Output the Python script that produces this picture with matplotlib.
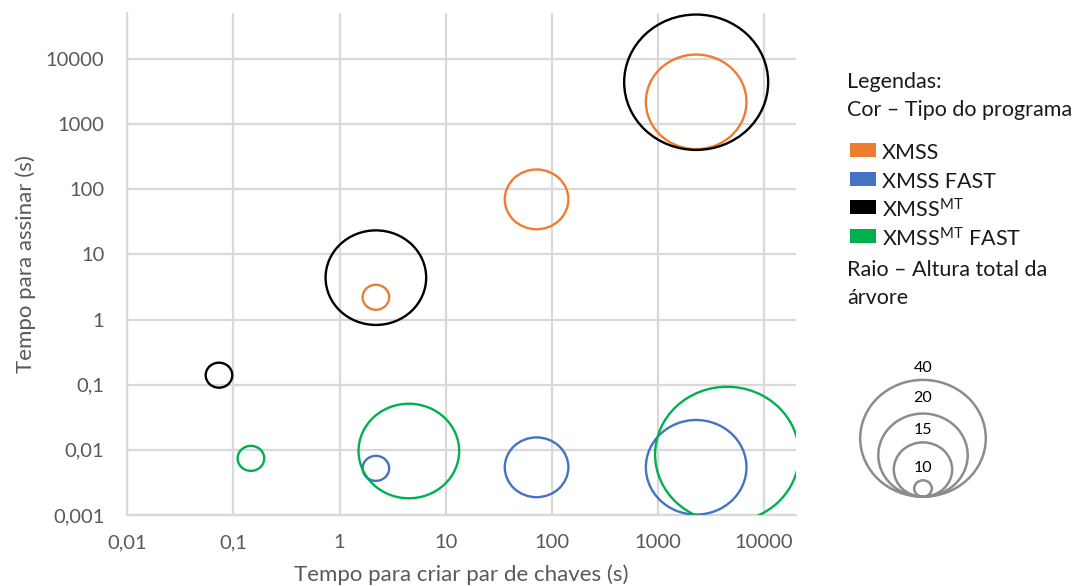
import numpy as np
import matplotlib
matplotlib.use("Agg")
import matplotlib.pyplot as plt
from matplotlib.collections import EllipseCollection
from matplotlib.patches import Rectangle

plt.rcParams["font.family"] = ["Lato", "DejaVu Sans"]
plt.rcParams["mathtext.fontset"] = "custom"
plt.rcParams["mathtext.rm"] = "Lato"
plt.rcParams["mathtext.it"] = "Lato"
plt.rcParams["mathtext.bf"] = "Lato:bold"

# dados (tempos em segundos, altura total da arvore)
programas = ["XMSS", "XMSS FAST", "XMSS$^{\\mathrm{MT}}$", "XMSS$^{\\mathrm{MT}}$ FAST"]
cores = ["#ED7D31", "#4472C4", "#000000", "#00B050"]

xmss_chaves = [2.2, 72, 2300]
xmss_assinar = [2.2, 70, 2200]
xmss_altura = [10, 15, 20]

xmss_fast_chaves = [2.2, 72, 2300]
xmss_fast_assinar = [0.0052, 0.0054, 0.0054]
xmss_fast_altura = [10, 15, 20]

xmssmt_chaves = [0.073, 2.2, 2300]
xmssmt_assinar = [0.14, 4.4, 4400]
xmssmt_altura = [10, 20, 40]

xmssmt_fast_chaves = [0.146, 4.5, 4500]
xmssmt_fast_assinar = [0.0074, 0.0096, 0.0085]
xmssmt_fast_altura = [10, 20, 40]

ticks_x = [0.01, 0.1, 1, 10, 100, 1000, 10000]
rotulos_x = ["0,01", "0,1", "1", "10", "100", "1000", "10000"]
ticks_y = [0.001, 0.01, 0.1, 1, 10, 100, 1000, 10000]
rotulos_y = ["0,001", "0,01", "0,1", "1", "10", "100", "1000", "10000"]

alturas_legenda = [40, 20, 15, 10]

# raio da bolha (px) para cada altura
raio_px = {10: 13.3, 15: 31.8, 20: 50.3, 40: 72}
raio_legenda = {40: 62.8, 20: 44.7, 15: 29.2, 10: 8.8}
ASPECTO = 0.94

W, H = 1074, 586
def fx(px):
    return px / W
def fy(py):
    return 1 - py / H

fig = plt.figure(figsize=(W / 100, H / 100), dpi=100)
ax = fig.add_axes([fx(127.4), fy(515), fx(795.8) - fx(127.4), fy(13) - fy(515)])
ax.set_xscale("log")
ax.set_yscale("log")
ax.set_xlim(0.01, 20000)
ax.set_ylim(0.001, 10 ** (4 + 46 / 65.14))

series = [
    (xmss_chaves, xmss_assinar, xmss_altura),
    (xmss_fast_chaves, xmss_fast_assinar, xmss_fast_altura),
    (xmssmt_chaves, xmssmt_assinar, xmssmt_altura),
    (xmssmt_fast_chaves, xmssmt_fast_assinar, xmssmt_fast_altura),
]
for (cx, cy, alt), cor in zip(series, cores):
    larg = [2 * raio_px[a] for a in alt]
    alts = [2 * raio_px[a] * ASPECTO for a in alt]
    ec = EllipseCollection(larg, alts, np.zeros(len(alt)), units="dots",
                           offsets=np.column_stack([cx, cy]),
                           offset_transform=ax.transData,
                           facecolors="none", edgecolors=cor, linewidths=1.7, zorder=3)
    ax.add_collection(ec, autolim=False)

ax.minorticks_off()
ax.set_xticks(ticks_x)
ax.set_xticklabels(rotulos_x)
ax.set_yticks(ticks_y)
ax.set_yticklabels(rotulos_y)
ax.tick_params(length=0, labelsize=14.5, labelcolor="#595959")
ax.tick_params(axis="x", pad=14)
ax.tick_params(axis="y", pad=16.5)
ax.grid(True, color="#d9d9d9", lw=1.6)
ax.set_axisbelow(True)
for s in ["top", "right"]:
    ax.spines[s].set_visible(False)
for s in ["left", "bottom"]:
    ax.spines[s].set_color("#d9d9d9")
    ax.spines[s].set_linewidth(1.6)

ax.set_xlabel("Tempo para criar par de chaves (s)", fontsize=16, color="#595959", labelpad=9)
ax.set_ylabel("Tempo para assinar (s)", fontsize=16, color="#595959", labelpad=7)

# legenda de cores
cor_txt = "#1a1a1a"
fs_leg = 15.5
fig.text(fx(847), fy(82), "Legendas:", fontsize=fs_leg, color=cor_txt, va="center")
fig.text(fx(847), fy(110), "Cor \u2013 Tipo do programa", fontsize=fs_leg, color=cor_txt, va="center")
for i, (nome, cor) in enumerate(zip(programas, cores)):
    yc = 150 + i * 28.5
    fig.add_artist(Rectangle((fx(850), fy(yc + 7)), fx(25.6), fy(0) - fy(14),
                             transform=fig.transFigure, facecolor=cor, edgecolor="none"))
    fig.text(fx(882), fy(yc + 3), nome, fontsize=fs_leg, color=cor_txt, va="center")
fig.text(fx(847), fy(270), "Raio \u2013 Altura total da", fontsize=fs_leg, color=cor_txt, va="center")
fig.text(fx(847), fy(298), "\u00e1rvore", fontsize=fs_leg, color=cor_txt, va="center")

# legenda de tamanhos
base = 496.7
larg = [2 * raio_legenda[a] for a in alturas_legenda]
alts = [2 * raio_legenda[a] * 0.93 for a in alturas_legenda]
offs = [(fx(923), fy(base - raio_legenda[a] * 0.93)) for a in alturas_legenda]
ec = EllipseCollection(larg, alts, np.zeros(len(larg)), units="dots", offsets=offs,
                       offset_transform=fig.transFigure, facecolors="none",
                       edgecolors="#8c8c8c", linewidths=1.8)
fig.add_artist(ec)
for a, yl in zip(alturas_legenda, [368, 398, 430, 468]):
    fig.text(fx(923), fy(yl), str(a), fontsize=11.5, color="#000000", ha="center", va="center")

fig.savefig("out.png", dpi=100)
